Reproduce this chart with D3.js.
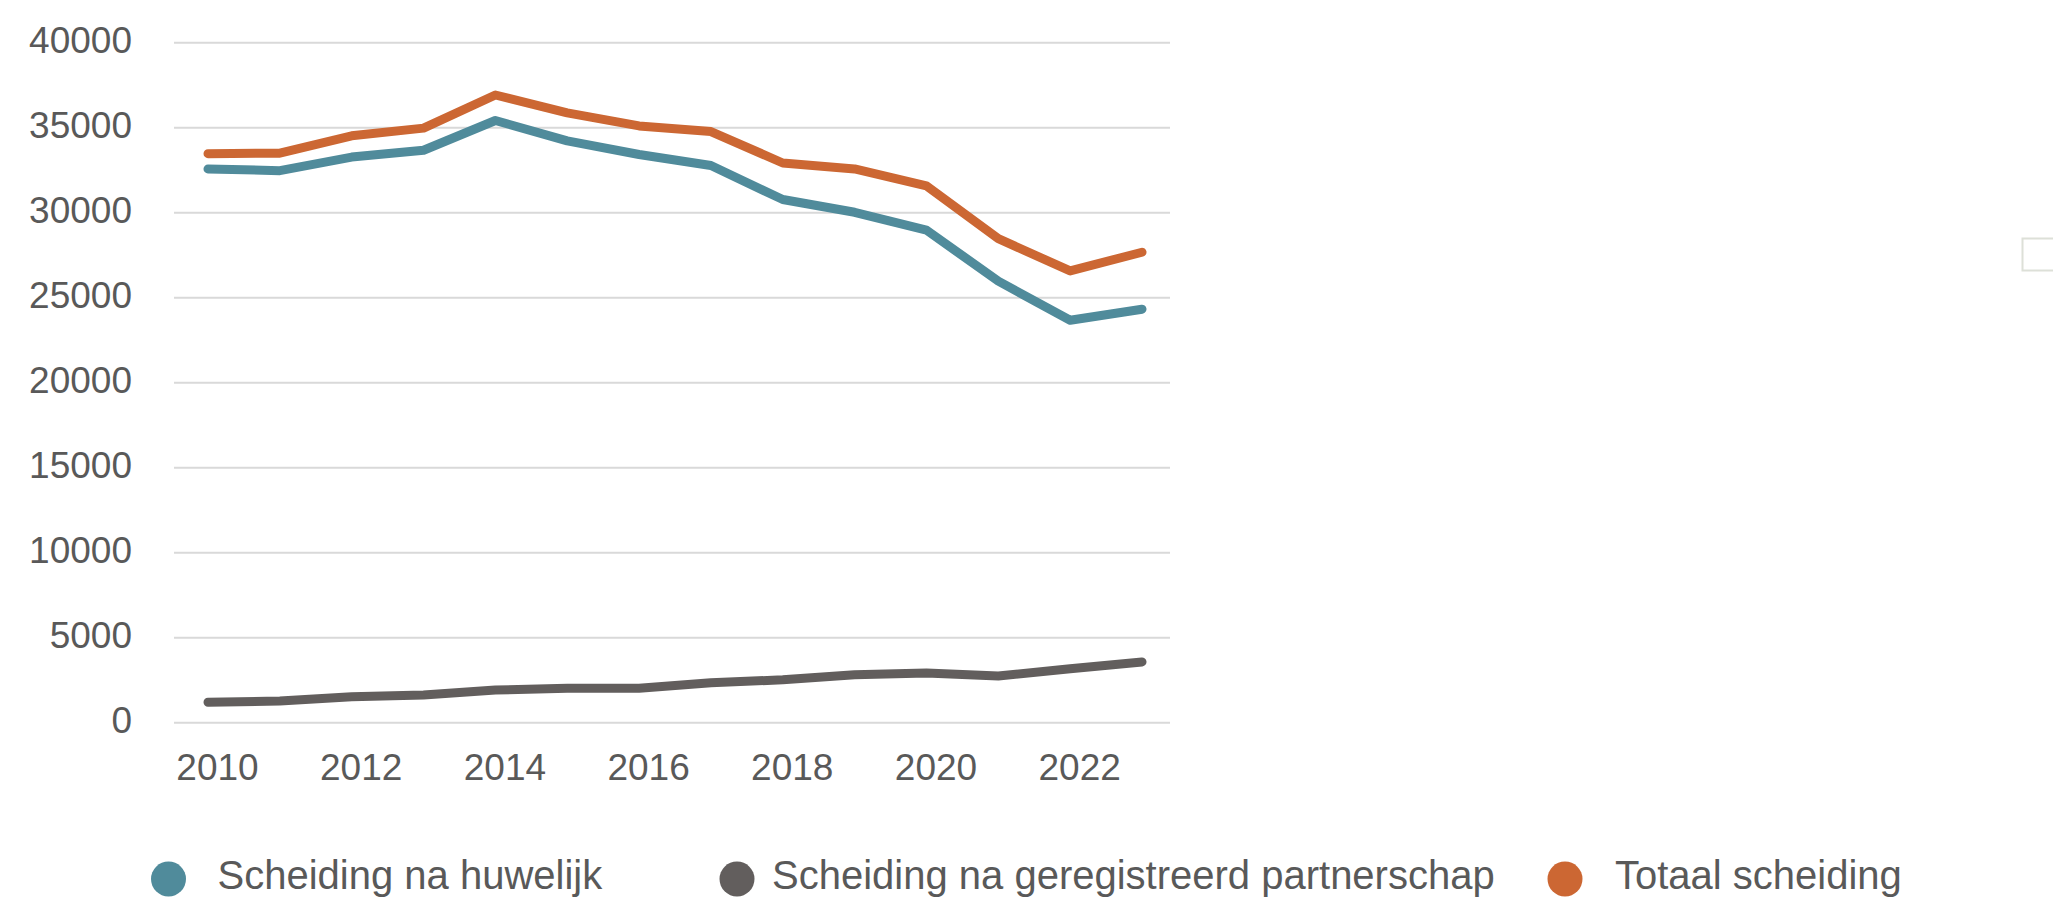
<!DOCTYPE html>
<html>
<head>
<meta charset="utf-8">
<script src="https://cdn.jsdelivr.net/npm/d3@7"></script>
<style>
  body { margin: 0; background: #fff; }
  svg text { font-family: "Liberation Sans", Arial, sans-serif; fill: #595959; }
</style>
</head>
<body>
<svg id="chart" width="2053" height="899"></svg>
<script>
// Data
var years = [2010, 2011, 2012, 2013, 2014, 2015, 2016, 2017, 2018, 2019, 2020, 2021, 2022, 2023];
var huwelijk = [32550, 32450, 33250, 33650, 35400, 34200, 33400, 32750, 30750, 30000, 28950, 25950, 23650, 24300];
var partnerschap = [1180, 1250, 1500, 1600, 1900, 2000, 2000, 2330, 2500, 2800, 2900, 2720, 3150, 3550];
var totaal = [33450, 33480, 34500, 34950, 36900, 35850, 35080, 34750, 32900, 32550, 31550, 28450, 26550, 27650];
var seriesNames = ["Scheiding na huwelijk", "Scheiding na geregistreerd partnerschap", "Totaal scheiding"];
var seriesColors = ["#508b9b", "#625e5d", "#cc6733"];
var xTicks = [2010, 2012, 2014, 2016, 2018, 2020, 2022];
var yTicks = [0, 5000, 10000, 15000, 20000, 25000, 30000, 35000, 40000];

var svg = d3.select("#chart");

var gridLeft = 174, gridRight = 1170;

var x = d3.scaleLinear().domain([2010, 2023]).range([208, 1142]);
var y = d3.scaleLinear().domain([0, 40000]).range([722.3, 42.3]);

// y axis with gridlines
var yAxis = svg.append("g")
    .attr("transform", "translate(" + gridLeft + ",0)")
    .call(d3.axisLeft(y).tickValues(yTicks).tickSize(-(gridRight - gridLeft)).tickPadding(42).tickFormat(d3.format("d")));
yAxis.select(".domain").remove();
yAxis.selectAll(".tick line").attr("stroke", "#d9d9d9").attr("stroke-width", 2);
yAxis.selectAll(".tick text")
    .attr("dy", "0.28em")
    .style("font-size", "37px");

// x axis labels
var xAxis = svg.append("g")
    .attr("transform", "translate(9," + y(0) + ")")
    .call(d3.axisBottom(x).tickValues(xTicks).tickSize(0).tickPadding(31.5).tickFormat(d3.format("d")));
xAxis.select(".domain").remove();
xAxis.selectAll(".tick text").style("font-size", "37px");

// lines
var allSeries = [huwelijk, partnerschap, totaal];
var line = d3.line()
    .x(function(d, i) { return x(years[i]); })
    .y(function(d) { return y(d); });

svg.selectAll("path.series")
  .data(allSeries)
  .enter()
  .append("path")
    .attr("class", "series")
    .attr("d", line)
    .attr("fill", "none")
    .attr("stroke", function(d, i) { return seriesColors[i]; })
    .attr("stroke-width", 9)
    .attr("stroke-linecap", "round")
    .attr("stroke-linejoin", "round");

// legend
var legendX = [168.5, 737, 1565];   // circle centres
var legendGap = [49, 35, 50];       // circle centre to text start
var legend = svg.selectAll("g.legend")
  .data(seriesNames)
  .enter()
  .append("g")
    .attr("class", "legend")
    .attr("transform", function(d, i) { return "translate(" + legendX[i] + ",879)"; });

legend.append("circle")
    .attr("r", 17.5)
    .attr("fill", function(d, i) { return seriesColors[i]; });

legend.append("text")
    .attr("x", function(d, i) { return legendGap[i]; })
    .attr("y", 9.5)
    .style("font-size", "40px")
    .text(function(d) { return d; });

// small empty box at the right edge
svg.append("rect")
    .attr("x", 2022.5)
    .attr("y", 238.5)
    .attr("width", 40)
    .attr("height", 32)
    .attr("fill", "#fff")
    .attr("stroke", "#dde0d8")
    .attr("stroke-width", 2);
</script>
</body>
</html>
